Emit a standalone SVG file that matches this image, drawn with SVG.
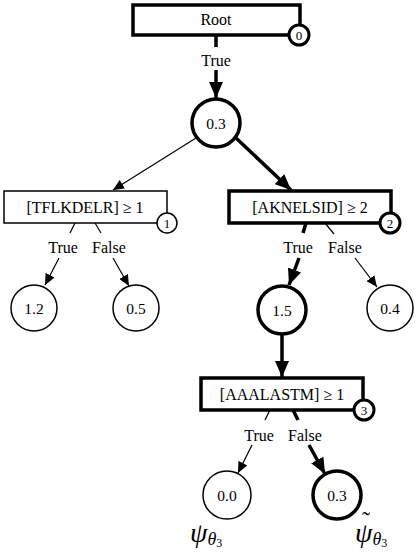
<svg xmlns="http://www.w3.org/2000/svg" width="420" height="554" viewBox="0 0 420 554">
<style>
text{font-family:"Liberation Serif","DejaVu Serif",serif;fill:#000;}
.lbl{font-size:16px;text-anchor:middle;}
.val{font-size:15.5px;text-anchor:middle;}
.idx{font-size:13px;text-anchor:middle;}
.box{fill:#fff;stroke:#000;}
.thin{stroke:#000;stroke-width:1.2;fill:none;}
.thick{stroke:#000;stroke-width:3.5;fill:none;}
.c{fill:#fff;stroke:#000;}
.math{font-style:italic;}
</style>
<defs>
<marker id="ah" markerUnits="userSpaceOnUse" markerWidth="12" markerHeight="10" refX="11" refY="5" orient="auto">
<path d="M0,0 L11,5 L0,10 Z" fill="#000"/>
</marker>
<marker id="ahT" markerUnits="userSpaceOnUse" markerWidth="17" markerHeight="14" refX="16" refY="7" orient="auto">
<path d="M0,0 L16,7 L0,14 Z" fill="#000"/>
</marker>
</defs>
<g id="connectors">
<line class="thick" x1="216" y1="35" x2="216" y2="47"/>
<text class="lbl" x="216" y="66">True</text>
<line class="thick" x1="216" y1="70" x2="216" y2="98" marker-end="url(#ahT)"/>
<line class="thin" x1="196" y1="138" x2="113" y2="190" marker-end="url(#ah)"/>
<line class="thick" x1="236" y1="138" x2="291" y2="190" marker-end="url(#ahT)"/>
<line class="thin" x1="75" y1="223" x2="70" y2="233"/>
<line class="thin" x1="95" y1="223" x2="101" y2="233"/>
<text class="lbl" x="63" y="253">True</text>
<text class="lbl" x="109" y="253">False</text>
<line class="thin" x1="59" y1="258" x2="45" y2="285" marker-end="url(#ah)"/>
<line class="thin" x1="113" y1="258" x2="129" y2="286" marker-end="url(#ah)"/>
<line class="thick" x1="306" y1="223" x2="303" y2="233"/>
<line class="thin" x1="325" y1="223" x2="334" y2="234"/>
<text class="lbl" x="298" y="253">True</text>
<text class="lbl" x="345" y="253">False</text>
<line class="thick" x1="299" y1="258" x2="289" y2="285" marker-end="url(#ahT)"/>
<line class="thin" x1="355" y1="258" x2="377" y2="287" marker-end="url(#ah)"/>
<line class="thick" x1="282" y1="335" x2="282" y2="377" marker-end="url(#ahT)"/>
<line class="thin" x1="270" y1="410" x2="265" y2="420"/>
<line class="thick" x1="293" y1="410" x2="298" y2="420"/>
<text class="lbl" x="259" y="441">True</text>
<text class="lbl" x="305" y="441">False</text>
<line class="thin" x1="252" y1="445" x2="238" y2="473" marker-end="url(#ah)"/>
<line class="thick" x1="309" y1="445" x2="325" y2="474" marker-end="url(#ahT)"/>
</g>
<g id="root">
<rect class="box" x="133" y="5" width="167" height="30" stroke-width="3.5"/>
<text class="lbl" x="216" y="25">Root</text>
<circle class="c" cx="299" cy="35" r="10" stroke-width="3"/>
<text class="idx" x="299" y="39.5">0</text>
</g>
<g id="n03">
<circle class="c" cx="216" cy="123" r="24" stroke-width="3.5"/>
<text class="val" x="216" y="128.5">0.3</text>
</g>
<g id="split1">
<rect class="box" x="4" y="191" width="163" height="32" stroke-width="1.5"/>
<text class="lbl" x="85" y="212.5">[TFLKDELR] ≥ 1</text>
<circle class="c" cx="167" cy="223" r="10" stroke-width="1.5"/>
<text class="idx" x="167" y="227.5">1</text>
</g>
<g id="split2">
<rect class="box" x="229" y="191" width="162" height="32" stroke-width="3.5"/>
<text class="lbl" x="310" y="212.5">[AKNELSID] ≥ 2</text>
<circle class="c" cx="390" cy="223" r="10" stroke-width="3"/>
<text class="idx" x="390" y="227.5">2</text>
</g>
<g id="n12">
<circle class="c" cx="34" cy="308" r="23" stroke-width="1.5"/>
<text class="val" x="34" y="313.5">1.2</text>
</g>
<g id="n05">
<circle class="c" cx="136" cy="308" r="23" stroke-width="1.5"/>
<text class="val" x="136" y="313.5">0.5</text>
</g>
<g id="n15">
<circle class="c" cx="282" cy="310" r="24" stroke-width="3.5"/>
<text class="val" x="282" y="315.5">1.5</text>
</g>
<g id="n04">
<circle class="c" cx="390" cy="308" r="23" stroke-width="1.5"/>
<text class="val" x="390" y="313.5">0.4</text>
</g>
<g id="split3">
<rect class="box" x="201" y="378" width="162" height="32" stroke-width="3.5"/>
<text class="lbl" x="282" y="399.5">[AAALASTM] ≥ 1</text>
<circle class="c" cx="364" cy="410" r="10" stroke-width="3"/>
<text class="idx" x="364" y="414.5">3</text>
</g>
<g id="n00">
<circle class="c" cx="227" cy="495" r="24" stroke-width="1.5"/>
<text class="val" x="227" y="500.5">0.0</text>
</g>
<g id="n03b">
<circle class="c" cx="337" cy="495" r="24" stroke-width="3.5"/>
<text class="val" x="337" y="500.5">0.3</text>
</g>
<g id="psi">
<text x="190" y="542" class="math" font-size="28">ψ<tspan font-size="18" dy="3">θ</tspan><tspan font-size="12" font-style="normal" dy="2">3</tspan></text>
<text x="355" y="542" class="math" font-size="28">ψ<tspan font-size="18" dy="3">θ</tspan><tspan font-size="12" font-style="normal" dy="2">3</tspan></text>
<text x="362" y="528" font-size="24">˜</text>
</g>
</svg>
